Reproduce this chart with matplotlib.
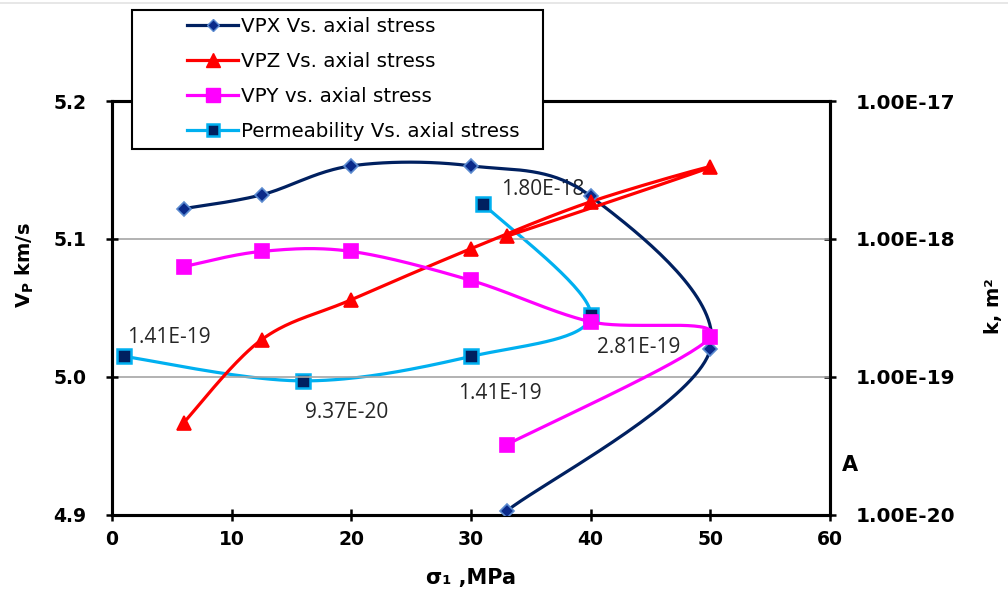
import numpy as np
import matplotlib
matplotlib.use("Agg")
import matplotlib.pyplot as plt
from matplotlib.patches import Rectangle
from matplotlib.lines import Line2D
from matplotlib.ticker import FixedLocator, FuncFormatter, NullLocator

# Axial stress (MPa) for the velocity series, in loading/unloading order
stress_v = [6, 12.5, 20, 30, 40, 50, 33]
vpx = [5.122, 5.132, 5.153, 5.153, 5.131, 5.020, 4.903]
vpz = [4.967, 5.027, 5.056, 5.093, 5.127, 5.152, 5.102]
vpy = [5.080, 5.091, 5.091, 5.070, 5.040, 5.029, 4.951]

# Permeability (m^2) versus axial stress
stress_k = [1, 16, 30, 40, 31]
perm = [1.41e-19, 9.37e-20, 1.41e-19, 2.81e-19, 1.80e-18]

x_ticks = [0, 10, 20, 30, 40, 50, 60]
v_ticks = [4.9, 5.0, 5.1, 5.2]
k_ticks = [1e-20, 1e-19, 1e-18, 1e-17]

labels = ["VPX Vs. axial stress", "VPZ Vs. axial stress",
          "VPY vs. axial stress", "Permeability Vs. axial stress"]

NAVY = "#002060"
RED = "#FF0000"
MAGENTA = "#FF00FF"
CYAN = "#00B0F0"

fig = plt.figure(figsize=(10.08, 5.97), dpi=100)
ax = fig.add_axes([0.1111, 0.1374, 0.7123, 0.6934])
ax2 = ax.twinx()

AX_W, AX_H = 718.0, 414.0


def smooth(xs, ys, xr, yr, n=40):
    """Spreadsheet-style smoothed line: cubic Bezier segments with
    Catmull-Rom control points, computed in screen-proportional space."""
    px = (np.asarray(xs, float) - xr[0]) / (xr[1] - xr[0]) * AX_W
    py = (np.asarray(ys, float) - yr[0]) / (yr[1] - yr[0]) * AX_H
    P = np.column_stack([px, py])
    m = len(P)
    out = []
    t = np.linspace(0, 1, n)[:, None]
    for i in range(m - 1):
        p0 = P[i]
        p3 = P[i + 1]
        prev = P[i - 1] if i > 0 else P[i]
        nxt = P[i + 2] if i + 2 < m else P[i + 1]
        c1 = p0 + (p3 - prev) / 6.0
        c2 = p3 - (nxt - p0) / 6.0
        seg = ((1 - t) ** 3) * p0 + 3 * ((1 - t) ** 2) * t * c1 \
            + 3 * (1 - t) * t ** 2 * c2 + t ** 3 * p3
        out.append(seg if i == 0 else seg[1:])
    S = np.vstack(out)
    sx = S[:, 0] / AX_W * (xr[1] - xr[0]) + xr[0]
    sy = S[:, 1] / AX_H * (yr[1] - yr[0]) + yr[0]
    return sx, sy


XR = (0, 60)
VR = (4.9, 5.2)
LW = 2.3

# Velocity curves
for ys, col, mk, ms, mfc, mec in [
    (vpx, NAVY, "D", 7.5, "#0A2A8A", "#5B8BD0"),
    (vpz, RED, "^", 10.5, RED, RED),
    (vpy, MAGENTA, "s", 10.5, MAGENTA, MAGENTA),
]:
    sx, sy = smooth(stress_v, ys, XR, VR)
    ax.plot(sx, sy, color=col, lw=LW, zorder=3, solid_capstyle="round")
    ax.plot(stress_v, ys, ls="none", marker=mk, ms=ms, mfc=mfc, mec=mec,
            mew=1.2, zorder=4)

# Permeability curve on log axis
logk = np.log10(perm)
sx, sy = smooth(stress_k, logk, XR, (-20, -17))
ax2.plot(sx, 10 ** sy, color=CYAN, lw=LW, zorder=3)
ax2.plot(stress_k, perm, ls="none", marker="s", ms=10, mfc=NAVY, mec=CYAN,
         mew=1.8, zorder=4)

offsets = [(45, 19), (43, -32), (29, -37), (48, -32), (60, 14)]
for x, k, off in zip(stress_k, perm, offsets):
    ax2.annotate(f"{k:.2E}", xy=(x, k), xytext=off, textcoords="offset pixels",
                 ha="center", va="center", fontsize=15,
                 family="Open Sans", color="#262626", zorder=5)

# Axes, ticks, grid
ax.set_xlim(*XR)
ax.set_ylim(*VR)
ax2.set_yscale("log")
ax2.set_ylim(1e-20, 1e-17)
ax.set_xticks(x_ticks)
ax.set_yticks(v_ticks)
ax.yaxis.set_major_formatter(FuncFormatter(lambda v, p: f"{v:.1f}"))
ax2.yaxis.set_major_locator(FixedLocator(k_ticks))
ax2.yaxis.set_minor_locator(NullLocator())
ax2.yaxis.set_major_formatter(FuncFormatter(lambda v, p: f"{v:.2E}"))

for a in (ax, ax2):
    for s in a.spines.values():
        s.set_linewidth(2.2)
        s.set_color("black")
    a.tick_params(direction="inout", length=9, width=1.8, labelsize=13.5,
                  pad=4)

ax.tick_params(axis="x", pad=6)
ax.tick_params(axis="y", pad=14)
ax2.tick_params(axis="y", pad=14, labelsize=14.5)
for a in (ax, ax2):
    for lab in a.get_xticklabels() + a.get_yticklabels():
        lab.set_fontweight("bold")

ax.grid(axis="y", color="#A6A6A6", lw=1.2)
ax.set_axisbelow(True)
ax.set_zorder(ax2.get_zorder() + 1)
ax.patch.set_visible(False)

# Axis titles
fig.text(25 / 1008, 1 - 265 / 597, r"V$_{\mathbf{P}}$ km/s", rotation=90,
         ha="center", va="center", fontsize=14, fontweight="bold")
fig.text(471 / 1008, 1 - 578 / 597, "σ₁ ,MPa", ha="center", va="center",
         fontsize=15, fontweight="bold")
fig.text(994 / 1008, 1 - 306 / 597, "k, m²", rotation=90, ha="center",
         va="center", fontsize=14, fontweight="bold")
fig.text(850 / 1008, 1 - 465 / 597, "A", ha="center", va="center",
         fontsize=15, fontweight="bold")

# Thin light rule along the top edge of the figure
fig.add_artist(Line2D([0, 1], [1 - 3 / 597, 1 - 3 / 597],
                      transform=fig.transFigure, color="#E3E3E3", lw=1.2))

# Legend in a framed box above the plot
box = Rectangle((132 / 1008, 1 - 149 / 597), (543 - 132) / 1008,
                (149 - 10) / 597, transform=fig.transFigure, fc="white",
                ec="black", lw=1.5, zorder=10)
fig.add_artist(box)
handles = [
    Line2D([], [], color=NAVY, lw=LW, marker="D", ms=6.5, mfc="#0A2A8A",
           mec="#5B8BD0"),
    Line2D([], [], color=RED, lw=LW, marker="^", ms=10, mfc=RED, mec=RED),
    Line2D([], [], color=MAGENTA, lw=LW, marker="s", ms=10, mfc=MAGENTA,
           mec=MAGENTA),
    Line2D([], [], color=CYAN, lw=LW, marker="s", ms=9, mfc=NAVY, mec=CYAN,
           mew=1.8),
]
leg = fig.legend(handles, labels, loc="upper left",
                 bbox_to_anchor=(187 / 1008, 1 - 16.5 / 597), frameon=False,
                 fontsize=14.3, handlelength=2.57, handletextpad=0.15,
                 labelspacing=0.82, borderpad=0.0, borderaxespad=0.0)
leg.set_zorder(11)

fig.savefig("out.png", dpi=100)
